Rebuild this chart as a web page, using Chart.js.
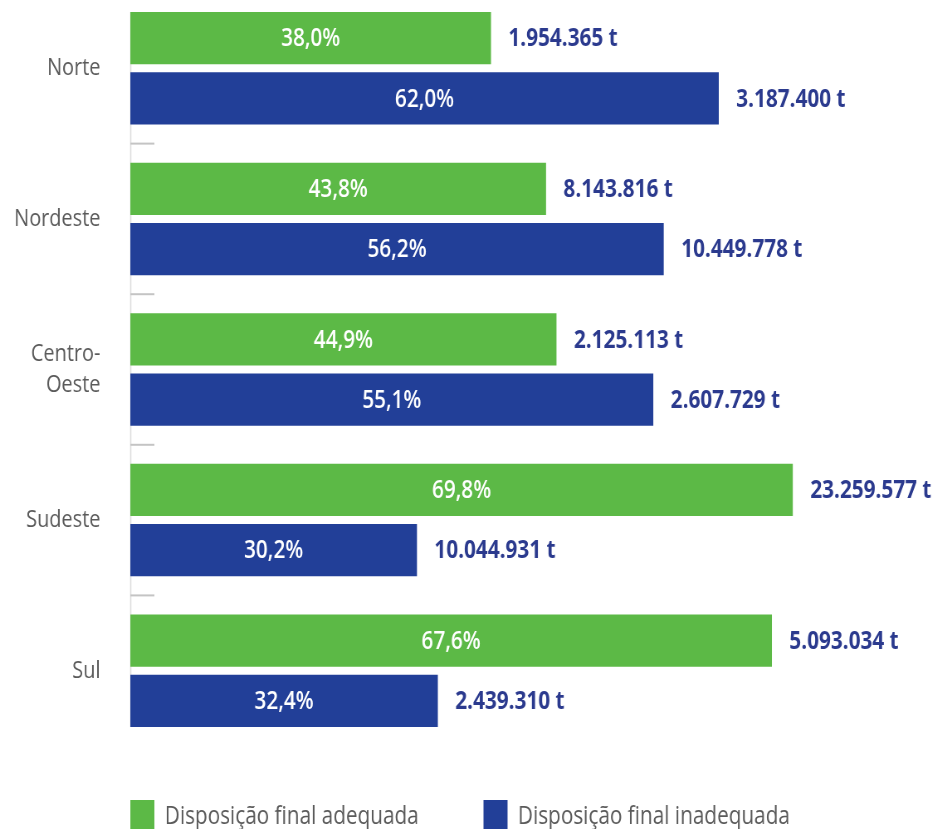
<!DOCTYPE html>
<html>
<head>
<meta charset="utf-8">
<script src="https://cdn.jsdelivr.net/npm/chart.js@4/dist/chart.umd.min.js"></script>
<style>
  html, body { margin: 0; padding: 0; background: #ffffff; overflow: hidden; width: 937px; height: 829px; }
  #wrap { position: absolute; left: 0; top: -7px; width: 1129px; height: 875px;
          transform: scaleX(0.83); transform-origin: 0 0; }
</style>
</head>
<body>
<div id="wrap"><canvas id="c" width="1129" height="875"></canvas></div>
<script>
// ---- data ----
const regions = ["Norte", "Nordeste", ["Centro-", "Oeste"], "Sudeste", "Sul"];
const seriesNames = ["Disposição final adequada", "Disposição final inadequada"];
const adequadaPct = [38.0, 43.8, 44.9, 69.8, 67.6];
const inadequadaPct = [62.0, 56.2, 55.1, 30.2, 32.4];
const adequadaTon = [1954365, 8143816, 2125113, 23259577, 5093034];
const inadequadaTon = [3187400, 10449778, 2607729, 10044931, 2439310];
const xMax = 85;

// ---- styles ----
const GREEN = '#5cb946';
const BLUE = '#223f98';
const LABEL_BLUE = '#2b3a8e';
const GREY = '#5a5a5a';
const FONT = '"Open Sans", "Noto Sans", sans-serif';

function fmtPct(v) { return v.toFixed(1).replace('.', ',') + '%'; }
function fmtTon(v) { return String(v).replace(/\B(?=(\d{3})+(?!\d))/g, '.') + ' t'; }

const tonnage = [adequadaTon, inadequadaTon];

const barLabels = {
  id: 'barLabels',
  afterDatasetsDraw(chart) {
    const ctx = chart.ctx;
    ctx.save();
    ctx.textBaseline = 'middle';
    chart.data.datasets.forEach((ds, di) => {
      const meta = chart.getDatasetMeta(di);
      meta.data.forEach((bar, i) => {
        ctx.font = '600 25px ' + FONT;
        ctx.fillStyle = '#ffffff';
        ctx.textAlign = 'center';
        ctx.fillText(fmtPct(ds.data[i]), (bar.base + bar.x) / 2, bar.y + 1);
        ctx.font = 'bold 25px ' + FONT;
        ctx.fillStyle = LABEL_BLUE;
        ctx.textAlign = 'left';
        ctx.fillText(fmtTon(tonnage[di][i]), bar.x + 21, bar.y + 1);
      });
    });
    ctx.restore();
  }
};

const axisMarks = {
  id: 'axisMarks',
  beforeDatasetsDraw(chart) {
    const ctx = chart.ctx;
    const y = chart.scales.y;
    const left = chart.chartArea.left;
    const m0 = chart.getDatasetMeta(0).data;
    const m1 = chart.getDatasetMeta(1).data;
    const top = m0[0].y - m0[0].height / 2;
    const bottom = m1[m1.length - 1].y + m1[m1.length - 1].height / 2;
    ctx.save();
    ctx.strokeStyle = '#dcdcdc';
    ctx.lineWidth = 1.5;
    ctx.beginPath();
    ctx.moveTo(left + 0.5, top);
    ctx.lineTo(left + 0.5, bottom);
    ctx.stroke();
    ctx.strokeStyle = '#c4c4c4';
    ctx.lineWidth = 2;
    for (let i = 0; i < regions.length - 1; i++) {
      const py = (y.getPixelForValue(i) + y.getPixelForValue(i + 1)) / 2;
      ctx.beginPath();
      ctx.moveTo(left, py);
      ctx.lineTo(left + 29, py);
      ctx.stroke();
    }
    ctx.restore();
  }
};

const legendPlace = {
  id: 'legendPlace',
  afterLayout(chart) {
    const lg = chart.legend;
    const pad = lg.options.labels.padding;
    const w = lg.right - lg.left;
    const h = lg.bottom - lg.top;
    lg.left = chart.chartArea.left - pad;
    lg.right = lg.left + w;
    lg.top = chart.chartArea.bottom + 54 - pad;
    lg.bottom = lg.top + h;
  }
};

new Chart(document.getElementById('c'), {
  type: 'bar',
  data: {
    labels: regions,
    datasets: [
      { label: seriesNames[0], data: adequadaPct, backgroundColor: GREEN, borderWidth: 0,
        categoryPercentage: 0.8, barPercentage: 0.867 },
      { label: seriesNames[1], data: inadequadaPct, backgroundColor: BLUE, borderWidth: 0,
        categoryPercentage: 0.8, barPercentage: 0.867 }
    ]
  },
  options: {
    indexAxis: 'y',
    responsive: false,
    animation: false,
    devicePixelRatio: 1,
    layout: { padding: 0 },
    scales: {
      x: { display: false, min: 0, max: xMax },
      y: {
        grid: { display: false, drawTicks: false },
        border: { display: false },
        ticks: {
          color: GREY,
          padding: 36,
          font: { family: FONT, size: 24, lineHeight: 1.3 }
        },
        afterFit(scale) {
          scale.width = 157;
          scale.paddingTop = 0;
          scale.paddingBottom = 0;
        }
      }
    },
    plugins: {
      tooltip: { enabled: false },
      legend: {
        position: 'bottom',
        align: 'start',
        labels: {
          boxWidth: 29,
          boxHeight: 34,
          padding: 78,
          color: GREY,
          font: { family: FONT, size: 25 }
        }
      }
    }
  },
  plugins: [barLabels, axisMarks, legendPlace]
});
</script>
</body>
</html>
